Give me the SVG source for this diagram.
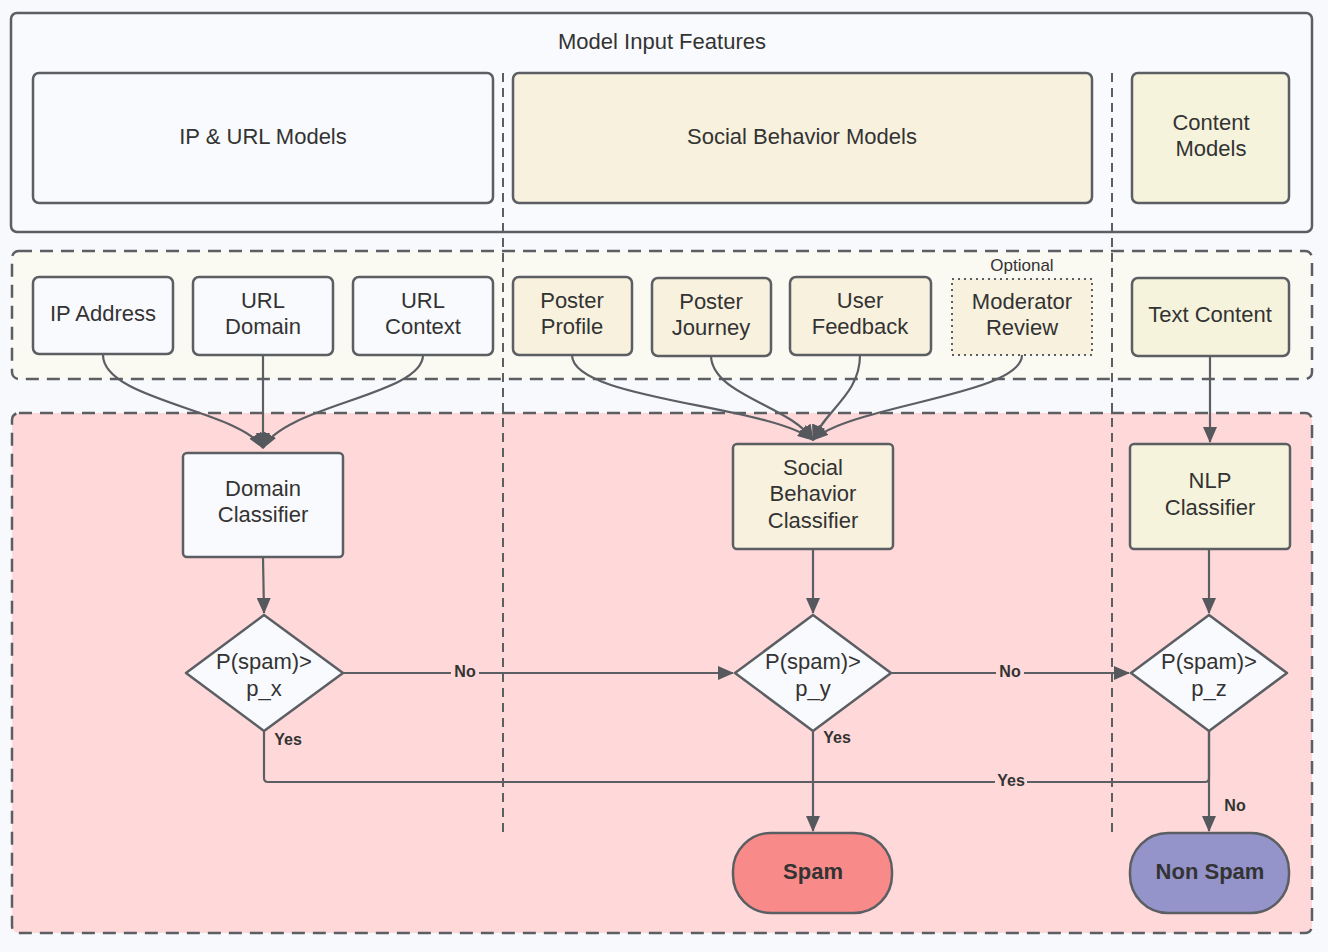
<svg xmlns="http://www.w3.org/2000/svg" width="1328" height="952" viewBox="0 0 1328 952">
<style>
text{font-family:"Liberation Sans",Arial,sans-serif;fill:#333;text-anchor:middle;dominant-baseline:central;font-size:22px}
.lbl{font-weight:bold;font-size:16px}
.box{stroke:#5b5e63;stroke-width:2.5}
.light{fill:#f9fafd}
.cream{fill:#f7f1de}
.cream2{fill:#f6f3dc}
.conn{fill:none;stroke:#5b5e63;stroke-width:2.2}
.vdash{fill:none;stroke:#5b5e63;stroke-width:2;stroke-dasharray:9 6}
.cdash{stroke:#5b5e63;stroke-width:2.5;stroke-dasharray:13 8}
</style>
<defs>
<marker id="ah" markerUnits="userSpaceOnUse" markerWidth="16" markerHeight="14" refX="15" refY="7" orient="auto">
<path d="M0,0 L16,7 L0,14 Z" fill="#55585d"/>
</marker>
</defs>
<rect width="1328" height="952" fill="#f8f9fc"/>

<g id="model-input-features">
<rect x="11" y="13" width="1301" height="219" rx="6" class="box" fill="#f9fafd"/>
<text x="662" y="41">Model Input Features</text>
</g>
<g id="ip-url-models">
<rect x="33" y="73" width="460" height="130" rx="6" class="box light"/>
<text x="263" y="136">IP &amp; URL Models</text>
</g>
<g id="social-behavior-models">
<rect x="513" y="73" width="579" height="130" rx="6" class="box cream"/>
<text x="802" y="136">Social Behavior Models</text>
</g>
<g id="content-models">
<rect x="1132" y="73" width="157" height="130" rx="6" class="box cream2"/>
<text x="1211" y="122">Content</text>
<text x="1211" y="148">Models</text>
</g>

<g id="features-container">
<rect x="12" y="251" width="1300" height="128" rx="7" class="cdash" fill="#faf9f2"/>
</g>
<g id="decision-container">
<rect x="12" y="413" width="1300" height="520" rx="7" class="cdash" fill="#ffd9d9"/>
</g>

<g id="dividers">
<line x1="503" y1="73" x2="503" y2="832" class="vdash"/>
<line x1="1112" y1="73" x2="1112" y2="832" class="vdash"/>
</g>

<g id="ip-address">
<rect x="33" y="277" width="140" height="77" rx="6" class="box light"/>
<text x="103" y="313">IP Address</text>
</g>
<g id="url-domain">
<rect x="193" y="277" width="140" height="78" rx="6" class="box light"/>
<text x="263" y="300">URL</text>
<text x="263" y="326">Domain</text>
</g>
<g id="url-context">
<rect x="353" y="277" width="140" height="78" rx="6" class="box light"/>
<text x="423" y="300">URL</text>
<text x="423" y="326">Context</text>
</g>
<g id="poster-profile">
<rect x="513" y="277" width="119" height="78" rx="6" class="box cream"/>
<text x="572" y="300">Poster</text>
<text x="572" y="326">Profile</text>
</g>
<g id="poster-journey">
<rect x="652" y="278" width="119" height="78" rx="6" class="box cream"/>
<text x="711" y="301">Poster</text>
<text x="711" y="327">Journey</text>
</g>
<g id="user-feedback">
<rect x="790" y="277" width="141" height="78" rx="6" class="box cream"/>
<text x="860" y="300">User</text>
<text x="860" y="326">Feedback</text>
</g>
<g id="moderator-review">
<text x="1022" y="265" style="font-size:17px">Optional</text>
<rect x="952" y="279" width="140" height="76" fill="#f7f1de" stroke="#5b5e63" stroke-width="2" stroke-dasharray="2 4"/>
<text x="1022" y="301">Moderator</text>
<text x="1022" y="327">Review</text>
</g>
<g id="text-content">
<rect x="1132" y="278" width="157" height="78" rx="6" class="box cream2"/>
<text x="1210" y="314">Text Content</text>
</g>

<g id="domain-classifier">
<rect x="183" y="453" width="160" height="104" rx="4" class="box light"/>
<text x="263" y="488">Domain</text>
<text x="263" y="514">Classifier</text>
</g>
<g id="social-behavior-classifier">
<rect x="733" y="444" width="160" height="105" rx="4" class="box cream"/>
<text x="813" y="467">Social</text>
<text x="813" y="493">Behavior</text>
<text x="813" y="520">Classifier</text>
</g>
<g id="nlp-classifier">
<rect x="1130" y="444" width="160" height="105" rx="4" class="box cream2"/>
<text x="1210" y="480">NLP</text>
<text x="1210" y="507">Classifier</text>
</g>

<g id="decision-x">
<path d="M264,615 L343,673 L264,731 L186,673 Z" class="box light" stroke-linejoin="round"/>
<text x="264" y="661">P(spam)&gt;</text>
<text x="264" y="688">p_x</text>
</g>
<g id="decision-y">
<path d="M813,615 L891,673 L813,731 L735,673 Z" class="box light" stroke-linejoin="round"/>
<text x="813" y="661">P(spam)&gt;</text>
<text x="813" y="688">p_y</text>
</g>
<g id="decision-z">
<path d="M1209,615 L1287,673 L1209,731 L1131,673 Z" class="box light" stroke-linejoin="round"/>
<text x="1209" y="661">P(spam)&gt;</text>
<text x="1209" y="688">p_z</text>
</g>

<g id="spam">
<rect x="733" y="833" width="159" height="80" rx="38" class="box" fill="#f88b89"/>
<text x="813" y="871" style="font-weight:bold">Spam</text>
</g>
<g id="non-spam">
<rect x="1130" y="833" width="159" height="80" rx="38" class="box" fill="#9494cb"/>
<text x="1210" y="871" style="font-weight:bold">Non Spam</text>
</g>

<g id="connectors">
<path d="M103,355 C103,400 240,410 263,448" class="conn" marker-end="url(#ah)"/>
<path d="M263,355 L263,448" class="conn" marker-end="url(#ah)"/>
<path d="M423,355 C423,395 285,405 263,448" class="conn" marker-end="url(#ah)"/>

<path d="M572,355 C572,400 770,405 813,440" class="conn" marker-end="url(#ah)"/>
<path d="M711,355 C711,395 790,405 813,440" class="conn" marker-end="url(#ah)"/>
<path d="M860,355 C860,395 825,410 813,440" class="conn" marker-end="url(#ah)"/>
<path d="M1022,355 C1022,395 850,405 813,440" class="conn" marker-end="url(#ah)"/>

<path d="M1210,356 L1210,442" class="conn" marker-end="url(#ah)"/>

<path d="M263,557 L264,613" class="conn" marker-end="url(#ah)"/>
<path d="M813,549 L813,613" class="conn" marker-end="url(#ah)"/>
<path d="M1209,549 L1209,613" class="conn" marker-end="url(#ah)"/>

<path d="M343,673 L733,673" class="conn" marker-end="url(#ah)"/>
<path d="M891,673 L1129,673" class="conn" marker-end="url(#ah)"/>

<path d="M264,731 L264,778 Q264,782 268,782 L813,782" class="conn"/>
<path d="M1209,731 L1209,778 Q1209,782 1205,782 L813,782" class="conn"/>
<path d="M813,731 L813,831" class="conn" marker-end="url(#ah)"/>
<path d="M1209,731 L1209,831" class="conn" marker-end="url(#ah)"/>

<rect x="451" y="662" width="28" height="18" fill="#ffd9d9"/>
<text x="465" y="671" class="lbl">No</text>
<rect x="996" y="662" width="28" height="18" fill="#ffd9d9"/>
<text x="1010" y="671" class="lbl">No</text>
<text x="288" y="739" class="lbl">Yes</text>
<text x="837" y="737" class="lbl">Yes</text>
<rect x="995" y="771" width="32" height="18" fill="#ffd9d9"/>
<text x="1011" y="780" class="lbl">Yes</text>
<text x="1235" y="805" class="lbl">No</text>
</g>
</svg>
